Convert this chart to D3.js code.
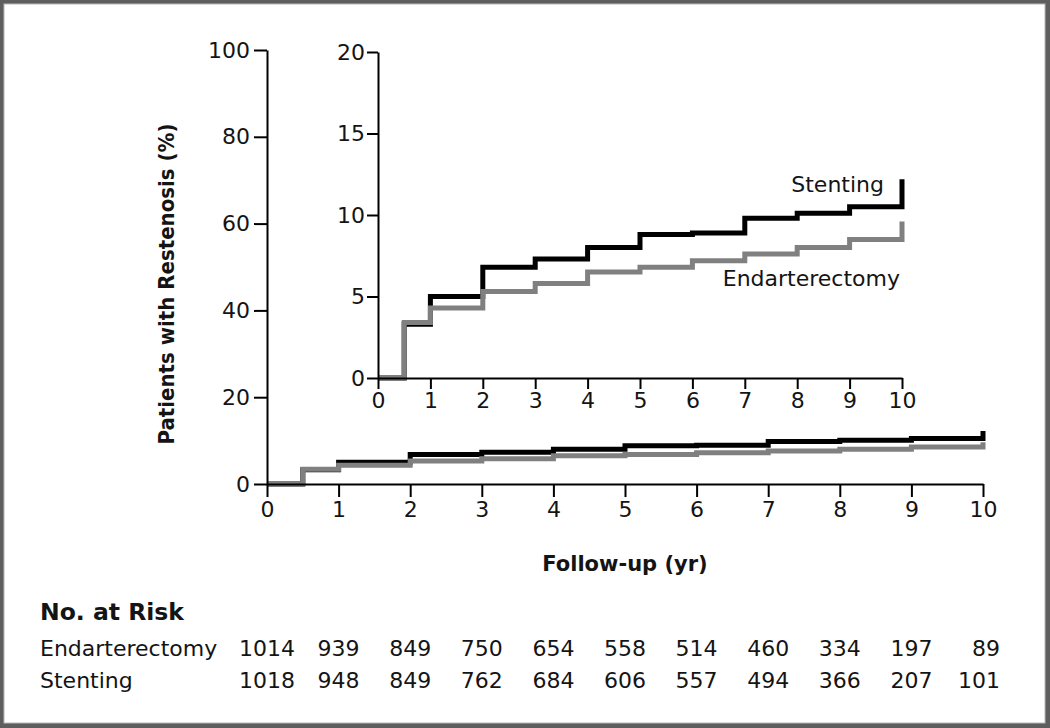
<!DOCTYPE html>
<html>
<head>
<meta charset="utf-8">
<script src="https://cdn.jsdelivr.net/npm/d3@7"></script>
<style>
  html, body { margin: 0; padding: 0; background: #fff; }
  svg { display: block; }
  text { font-family: "DejaVu Sans", sans-serif; fill: #141414; }
</style>
</head>
<body>
<svg id="chart" width="1050" height="728"></svg>
<script>
// ---- Data ----
const years = [0, 0.5, 1, 2, 3, 4, 5, 6, 7, 8, 9, 10];
const stentingPct = [0, 3.3, 5.0, 6.8, 7.3, 8.0, 8.8, 8.9, 9.8, 10.1, 10.5, 12.2];
const endarterectomyPct = [0, 3.4, 4.3, 5.3, 5.8, 6.5, 6.8, 7.2, 7.6, 8.0, 8.5, 9.6];
const riskYears = [0, 1, 2, 3, 4, 5, 6, 7, 8, 9, 10];
const riskEndarterectomy = [1014, 939, 849, 750, 654, 558, 514, 460, 334, 197, 89];
const riskStenting = [1018, 948, 849, 762, 684, 606, 557, 494, 366, 207, 101];
const mainYTicks = [0, 20, 40, 60, 80, 100];
const insetYTicks = [0, 5, 10, 15, 20];
const xTicks = [0, 1, 2, 3, 4, 5, 6, 7, 8, 9, 10];
const seriesNames = ["Stenting", "Endarterectomy"];

const svg = d3.select("#chart");

// frame
svg.append("rect").attr("x", 0).attr("y", 0).attr("width", 1050).attr("height", 728).attr("fill", "#5e5e5e");
svg.append("rect").attr("x", 4).attr("y", 4).attr("width", 1041).attr("height", 719).attr("fill", "#fff")
  .attr("stroke", "#b8b8b8").attr("stroke-width", 1);

// ---- Scales ----
const xMain = d3.scaleLinear().domain([0, 10]).range([267, 983]);
const yMain = d3.scaleLinear().domain([0, 100]).range([484, 50]);
const xIn = d3.scaleLinear().domain([0, 10]).range([378, 902]);
const yIn = d3.scaleLinear().domain([0, 20]).range([378, 52]);

function styleAxis(g) {
  g.select(".domain").attr("stroke", "#000").attr("stroke-width", 2);
  g.selectAll(".tick line").attr("stroke", "#000").attr("stroke-width", 2);
  g.selectAll(".tick text").attr("font-size", 22).attr("fill", "#141414")
    .attr("font-family", "DejaVu Sans, sans-serif");
}

function drawCurves(g, xs, ys) {
  const line = d3.line().x((d, i) => xs(years[i])).y(d => ys(d)).curve(d3.curveStepAfter);
  g.append("path").datum(stentingPct).attr("d", line)
    .attr("fill", "none").attr("stroke", "#000").attr("stroke-width", 5);
  g.append("path").datum(endarterectomyPct).attr("d", line)
    .attr("fill", "none").attr("stroke", "#808080").attr("stroke-width", 5);
}

// ---- Main chart ----
const main = svg.append("g");
drawCurves(main, xMain, yMain);

main.append("g").attr("transform", `translate(0,${yMain(0)})`)
  .call(d3.axisBottom(xMain).tickValues(xTicks).tickFormat(d3.format("d")).tickSize(13).tickSizeOuter(0).tickPadding(4))
  .call(styleAxis);
main.append("g").attr("transform", `translate(${xMain(0)},0)`)
  .call(d3.axisLeft(yMain).tickValues(mainYTicks).tickFormat(d3.format("d")).tickSize(13).tickSizeOuter(0).tickPadding(4))
  .call(styleAxis);

// ---- Inset ----
const inset = svg.append("g");
drawCurves(inset, xIn, yIn);
inset.append("g").attr("transform", `translate(0,${yIn(0)})`)
  .call(d3.axisBottom(xIn).tickValues(xTicks).tickFormat(d3.format("d")).tickSize(11).tickSizeOuter(0).tickPadding(3))
  .call(styleAxis);
inset.append("g").attr("transform", `translate(${xIn(0)},0)`)
  .call(d3.axisLeft(yIn).tickValues(insetYTicks).tickFormat(d3.format("d")).tickSize(11).tickSizeOuter(0).tickPadding(2))
  .call(styleAxis);

inset.append("text").attr("x", 884).attr("y", 192).attr("text-anchor", "end")
  .attr("font-size", 22).text(seriesNames[0]);
inset.append("text").attr("x", 900).attr("y", 286).attr("text-anchor", "end")
  .attr("font-size", 22).text(seriesNames[1]);

// ---- Axis titles ----
svg.append("text").attr("transform", "translate(174,284) rotate(-90)")
  .attr("text-anchor", "middle").attr("font-size", 22).attr("font-weight", "bold")
  .attr("font-family", "'DejaVu Sans Condensed', 'DejaVu Sans', sans-serif")
  .style("font-family", "'DejaVu Sans Condensed', 'DejaVu Sans', sans-serif")
  .attr("font-stretch", "condensed")
  .text("Patients with Restenosis (%)");
svg.append("text").attr("x", 625).attr("y", 571).attr("text-anchor", "middle")
  .attr("font-size", 21).attr("font-weight", "bold").text("Follow-up (yr)");

// ---- Risk table ----
svg.append("text").attr("x", 40).attr("y", 620).attr("font-size", 23.5).attr("font-weight", "bold").text("No. at Risk");
const rows = [
  { name: seriesNames[1], vals: riskEndarterectomy, y: 656 },
  { name: seriesNames[0], vals: riskStenting, y: 688 }
];
rows.forEach(r => {
  svg.append("text").attr("x", 40).attr("y", r.y).attr("font-size", 22).text(r.name);
  svg.append("g").selectAll("text").data(r.vals).join("text")
    .attr("x", (d, i) => i === riskYears.length - 1 ? xMain(riskYears[i]) + 17 : xMain(riskYears[i]))
    .attr("y", r.y)
    .attr("text-anchor", (d, i) => i === riskYears.length - 1 ? "end" : "middle")
    .attr("font-size", 22)
    .text(d => d);
});
</script>
</body>
</html>
